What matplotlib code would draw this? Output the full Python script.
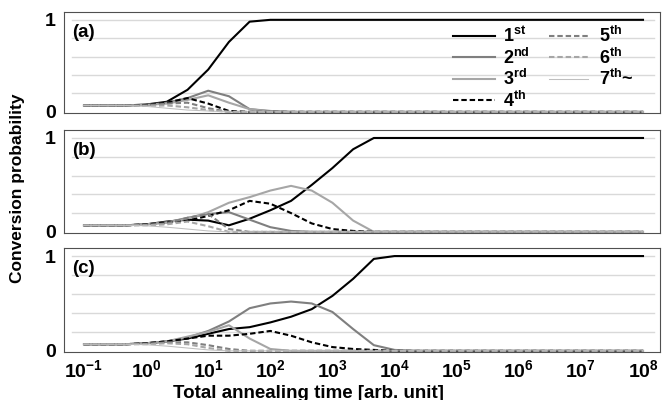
import numpy as np
import matplotlib
matplotlib.use("Agg")
import matplotlib.pyplot as plt

plt.rcParams['font.family'] = ['Liberation Sans', 'DejaVu Sans']
plt.rcParams['font.weight'] = 'bold'
plt.rcParams['mathtext.fontset'] = 'custom'
plt.rcParams['mathtext.rm'] = 'Liberation Sans:bold'
plt.rcParams['mathtext.bf'] = 'Liberation Sans:bold'
plt.rcParams['mathtext.it'] = 'Liberation Sans:bold'
plt.rcParams['mathtext.default'] = 'bf'

# x grid: 10^-1 ... 10^8, step 1/3 decade (28 points)
log_t = [-1 + i / 3 for i in range(28)]
t = [10 ** v for v in log_t]

Z = 0.0
# Panel (a)
a1 = [0.07, 0.07, 0.07, 0.08, 0.11, 0.24, 0.46, 0.76, 0.98, 1.0] + [1.0] * 18
a2 = [0.07, 0.07, 0.07, 0.075, 0.10, 0.15, 0.23, 0.17, 0.03, 0.01] + [Z] * 18
a3 = [0.07, 0.07, 0.07, 0.075, 0.09, 0.13, 0.18, 0.10, 0.03, 0.005] + [Z] * 18
a4 = [0.07, 0.07, 0.07, 0.075, 0.10, 0.15, 0.09, 0.01, 0.0] + [Z] * 19
a5 = [0.07, 0.07, 0.07, 0.07, 0.09, 0.10, 0.04, 0.0] + [Z] * 20
a6 = [0.07, 0.07, 0.07, 0.065, 0.07, 0.05, 0.02, 0.0] + [Z] * 20
a7 = [0.07, 0.07, 0.07, 0.06, 0.04, 0.02, 0.01, 0.0] + [Z] * 20

# Panel (b)
b1 = [0.07, 0.07, 0.07, 0.08, 0.11, 0.13, 0.12, 0.07, 0.14, 0.23, 0.33, 0.50, 0.68, 0.88, 1.0] + [1.0] * 13
b2 = [0.07, 0.07, 0.07, 0.08, 0.10, 0.15, 0.19, 0.21, 0.13, 0.05, 0.01] + [Z] * 17
b3 = [0.07, 0.07, 0.07, 0.08, 0.10, 0.14, 0.21, 0.31, 0.37, 0.44, 0.49, 0.44, 0.31, 0.12, 0.0] + [Z] * 13
b4 = [0.07, 0.07, 0.07, 0.08, 0.10, 0.12, 0.17, 0.23, 0.33, 0.30, 0.20, 0.09, 0.03, 0.01, 0.0] + [Z] * 13
b5 = [0.07, 0.07, 0.07, 0.075, 0.09, 0.15, 0.19, 0.03, 0.0] + [Z] * 19
b6 = [0.07, 0.07, 0.07, 0.07, 0.08, 0.11, 0.06, 0.0] + [Z] * 20
b7 = [0.07, 0.07, 0.07, 0.065, 0.05, 0.03, 0.01, 0.0] + [Z] * 20

# Panel (c)
c1 = [0.07, 0.07, 0.07, 0.08, 0.10, 0.13, 0.18, 0.23, 0.25, 0.30, 0.36, 0.44, 0.58, 0.76, 0.97, 1.0] + [1.0] * 12
c2 = [0.07, 0.07, 0.07, 0.08, 0.10, 0.14, 0.21, 0.31, 0.45, 0.50, 0.52, 0.50, 0.41, 0.23, 0.06, 0.01] + [Z] * 12
c3 = [0.07, 0.07, 0.07, 0.08, 0.10, 0.15, 0.20, 0.27, 0.13, 0.02, 0.0] + [Z] * 17
c4 = [0.07, 0.07, 0.07, 0.08, 0.10, 0.13, 0.16, 0.16, 0.18, 0.21, 0.16, 0.09, 0.04, 0.02, 0.01, 0.0] + [Z] * 12
c5 = [0.07, 0.07, 0.07, 0.075, 0.09, 0.09, 0.06, 0.02, 0.0] + [Z] * 19
c6 = [0.07, 0.07, 0.07, 0.07, 0.08, 0.07, 0.03, 0.0] + [Z] * 20
c7 = [0.07, 0.07, 0.07, 0.065, 0.05, 0.03, 0.01, 0.0] + [Z] * 20

panels = [("(a)", [a1, a2, a3, a4, a5, a6, a7]),
          ("(b)", [b1, b2, b3, b4, b5, b6, b7]),
          ("(c)", [c1, c2, c3, c4, c5, c6, c7])]

labels = [r'$1^{st}$', r'$2^{nd}$', r'$3^{rd}$', r'$4^{th}$',
          r'$5^{th}$', r'$6^{th}$', r'$7^{th}$~']
styles = [dict(color='#000000', lw=1.5, ls='-'),
          dict(color='#7f7f7f', lw=1.5, ls='-'),
          dict(color='#a6a6a6', lw=1.5, ls='-'),
          dict(color='#000000', lw=1.5, ls=(0, (2.6, 1.4))),
          dict(color='#7f7f7f', lw=1.5, ls=(0, (2.6, 1.4))),
          dict(color='#a6a6a6', lw=1.5, ls=(0, (2.6, 1.4))),
          dict(color='#bfbfbf', lw=0.75, ls='-')]

xticks = [10.0 ** k for k in range(-1, 9)]
xticklabels = [r'$10^{%d}$' % k for k in range(-1, 9)]

W, H = 670, 400
fig = plt.figure(figsize=(6.7, 4.0), dpi=100)
boxes = [(64, 12, 660, 113), (64, 130, 660, 233), (64, 248, 660, 352)]
xl = (10 ** (-1 - 20 / 62.1), 10 ** (8 + 17 / 62.1))

axes = []
for (lab, series), (x0, y0, x1, y1) in zip(panels, boxes):
    ax = fig.add_axes([x0 / W, 1 - y1 / H, (x1 - x0) / W, (y1 - y0) / H])
    ax.set_xscale('log')
    ax.set_xlim(*xl)
    ax.set_ylim(-0.012, 1.085)
    for g in [0.2, 0.4, 0.6, 0.8, 1.0]:
        ax.axhline(g, xmin=0.014, xmax=0.99, color='#d9d9d9', lw=1.0, zorder=0)
    lines = []
    for s, st, lb in zip(series, styles, labels):
        ln, = ax.plot(t, s, label=lb, solid_joinstyle='round', **st)
        lines.append(ln)
    for sp in ax.spines.values():
        sp.set_linestyle((0, (1.5, 1)))
        sp.set_linewidth(0.8)
        sp.set_color('#505050')
    ax.set_yticks([0, 1])
    ax.set_yticklabels(['0', '1'], fontsize=14, fontweight='bold')
    ax.tick_params(axis='y', length=0, pad=6)
    ax.minorticks_off()
    ax.set_xticks(xticks)
    ax.tick_params(axis='x', length=0, pad=5)
    ax.text(0.013, 0.80, lab, transform=ax.transAxes, fontsize=13.5,
            fontweight='bold', va='center', ha='left')
    axes.append((ax, lines))

for ax, _ in axes[:2]:
    ax.set_xticklabels([])
axes[2][0].set_xticklabels(xticklabels, fontsize=14)

ax_a, lines_a = axes[0]
leg1 = ax_a.legend(lines_a[:4], labels[:4], loc='upper left',
                   bbox_to_anchor=((453 - 64) / 596, (113 - 26) / 101),
                   frameon=False, fontsize=13, handlelength=2.33,
                   handletextpad=0.44, labelspacing=0.08, borderpad=0,
                   borderaxespad=0)
ax_a.add_artist(leg1)
leg2 = ax_a.legend(lines_a[4:], labels[4:], loc='upper left',
                   bbox_to_anchor=((549 - 64) / 596, (113 - 26) / 101),
                   frameon=False, fontsize=13, handlelength=2.16,
                   handletextpad=0.6, labelspacing=0.08, borderpad=0,
                   borderaxespad=0)

fig.text(308 / W, 1 - 393 / H, 'Total annealing time [arb. unit]',
         ha='center', va='center', fontsize=13.5, fontweight='bold')
fig.text(18 / W, 1 - 188 / H, 'Conversion probability', rotation=90,
         ha='center', va='center', fontsize=12.5, fontweight='bold')

fig.savefig('out.png', dpi=100)
